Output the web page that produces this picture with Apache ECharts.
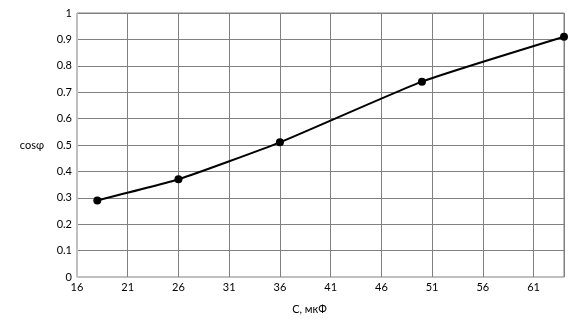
<!DOCTYPE html>
<html><head><meta charset="utf-8">
<script src="https://cdn.jsdelivr.net/npm/echarts@6/dist/echarts.min.js"></script>
<style>html,body{margin:0;padding:0;background:#fff}#c{width:576px;height:336px}</style>
</head><body><div id="c"></div>
<script>
const capacitance = [18, 26, 36, 50, 64];
const cosPhi = [0.29, 0.37, 0.51, 0.74, 0.91];
const xTitle = 'C, мкФ';
const yTitle = 'cosφ';

const chart = echarts.init(document.getElementById('c'), null, {renderer: 'canvas'});
chart.setOption({
  animation: false,
  backgroundColor: '#fff',
  grid: {left: 77, right: 12, top: 13, bottom: 59, show: true, borderColor: '#808080', borderWidth: 1},
  textStyle: {fontFamily: 'Lato', color: '#000'},
  xAxis: {
    type: 'value', min: 16, max: 64, interval: 5,
    name: xTitle, nameLocation: 'middle', nameGap: 27,
    nameTextStyle: {fontSize: 11, color: '#000', fontFamily: 'Lato', padding: [0, 22, 0, 0]},
    axisLine: {show: true, lineStyle: {color: '#bfbfbf'}},
    axisTick: {show: false},
    axisLabel: {fontSize: 11, color: '#000', margin: 5, showMaxLabel: false, fontFamily: 'Lato'},
    splitLine: {show: true, lineStyle: {color: '#808080', width: 1}}
  },
  yAxis: {
    type: 'value', min: 0, max: 1, interval: 0.1,
    name: yTitle, nameLocation: 'middle', nameRotate: 0, nameGap: 33,
    nameTextStyle: {fontSize: 11, color: '#000', fontFamily: 'Lato'},
    axisLine: {show: true, lineStyle: {color: '#bfbfbf'}},
    axisTick: {show: false},
    axisLabel: {fontSize: 11, color: '#000', margin: 5, fontFamily: 'Lato'},
    splitLine: {show: true, lineStyle: {color: '#808080', width: 1}}
  },
  series: [{
    type: 'line',
    data: capacitance.map((x, i) => [x, cosPhi[i]]),
    smooth: 0.15,
    symbol: 'circle', symbolSize: 8,
    lineStyle: {color: '#000', width: 2},
    itemStyle: {color: '#000'}
  }]
});
</script></body></html>
